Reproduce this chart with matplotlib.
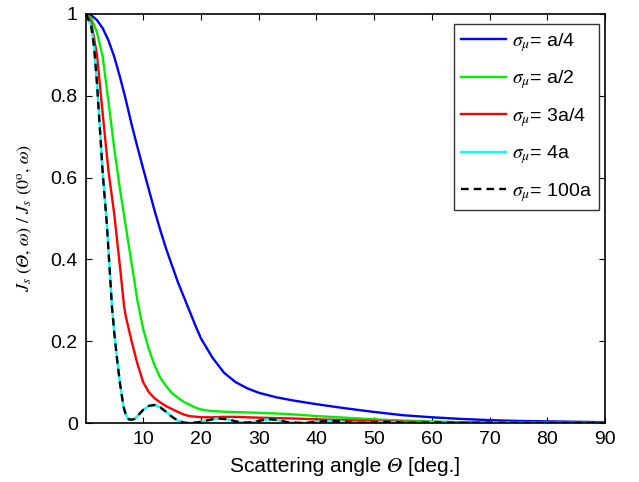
import numpy as np
import matplotlib
matplotlib.use("Agg")
import matplotlib.pyplot as plt

plt.rcParams['font.family'] = ['Liberation Sans', 'STIXGeneral', 'DejaVu Sans']
plt.rcParams['mathtext.fontset'] = 'stix'

# sigma_mu = a/4
x_a4 = [0.1, 1, 2, 3, 4, 5, 6, 7, 8, 9, 10, 11, 12, 13, 14, 15, 16, 17, 18, 19,
        20, 22, 24, 26, 28, 30, 33, 36, 40, 45, 50, 55, 60, 65, 70, 75, 80, 85, 90]
y_a4 = [1.0, 0.997, 0.985, 0.965, 0.935, 0.895, 0.845, 0.79, 0.73, 0.675, 0.622, 0.57,
        0.518, 0.47, 0.425, 0.385, 0.345, 0.31, 0.275, 0.24, 0.207, 0.16, 0.123, 0.1,
        0.085, 0.074, 0.063, 0.055, 0.046, 0.036, 0.027, 0.019, 0.014, 0.01, 0.007,
        0.005, 0.004, 0.003, 0.002]

# sigma_mu = a/2
x_a2 = [0.1, 1, 2, 3, 4, 5, 6, 7, 8, 9, 10, 11, 12, 13, 14, 15, 16, 17, 18, 19,
        20, 22, 25, 30, 35, 40, 45, 50, 55, 60, 65, 70, 80, 90]
y_a2 = [1.0, 0.99, 0.955, 0.895, 0.785, 0.67, 0.57, 0.48, 0.39, 0.3, 0.23, 0.18, 0.14,
        0.11, 0.09, 0.073, 0.062, 0.052, 0.045, 0.038, 0.033, 0.029, 0.027, 0.025,
        0.022, 0.017, 0.013, 0.009, 0.006, 0.004, 0.002, 0.001, 0.0005, 0.0]

# sigma_mu = 3a/4
x_3a4 = [0.1, 1, 2, 3, 3.6, 4, 5, 6, 6.7, 7, 8, 9, 10, 11, 12, 13, 14, 15, 16, 17, 18,
         20, 22, 24, 26, 28, 30, 33, 36, 40, 45, 50, 55, 60, 70, 80, 90]
y_3a4 = [1.0, 0.98, 0.9, 0.755, 0.67, 0.615, 0.51, 0.38, 0.285, 0.26, 0.2, 0.145, 0.1,
         0.075, 0.06, 0.05, 0.041, 0.034, 0.027, 0.021, 0.017, 0.014, 0.014, 0.015,
         0.015, 0.014, 0.013, 0.012, 0.011, 0.009, 0.007, 0.005, 0.003, 0.002, 0.001,
         0.0, 0.0]

# sigma_mu = 4a and 100a (nearly identical)
x_4a = [0.1, 1, 1.5, 2, 2.6, 3, 3.7, 4, 4.6, 5, 5.5, 6, 6.6, 7, 7.5, 8, 8.5, 9, 10, 11,
        12, 13, 14, 15, 16, 17, 18, 19, 20, 21, 22, 23, 24, 25, 26, 27, 28, 29, 30, 31,
        32, 33, 34, 35, 36, 38, 40, 42, 44, 46, 48, 50, 52, 54, 56, 60, 63, 66, 70, 75, 90]
y_4a = [1.0, 0.97, 0.92, 0.83, 0.7, 0.61, 0.488, 0.42, 0.284, 0.22, 0.154, 0.095, 0.04,
        0.02, 0.009, 0.008, 0.01, 0.017, 0.032, 0.042, 0.044, 0.038, 0.027, 0.015, 0.006,
        0.001, 0.0, 0.001, 0.003, 0.006, 0.009, 0.011, 0.01, 0.008, 0.004, 0.002, 0.001,
        0.002, 0.005, 0.008, 0.009, 0.008, 0.005, 0.002, 0.001, 0.0, 0.003, 0.005, 0.004,
        0.001, 0.0, 0.002, 0.003, 0.002, 0.0, 0.002, 0.001, 0.0, 0.001, 0.0, 0.0]
y_100a = y_4a

labels = [r'$\sigma_\mu$= a/4', r'$\sigma_\mu$= a/2', r'$\sigma_\mu$= 3a/4',
          r'$\sigma_\mu$= 4a', r'$\sigma_\mu$= 100a']

fig = plt.figure(figsize=(6.39, 4.82), dpi=100)
ax = fig.add_axes([0.1346, 0.1224, 0.8122, 0.8486])

ax.plot(x_a4, y_a4, color='#0000ff', lw=1.7, label=labels[0])
ax.plot(x_a2, y_a2, color='#00ee00', lw=1.7, label=labels[1])
ax.plot(x_3a4, y_3a4, color='#ff0000', lw=1.7, label=labels[2])
ax.plot(x_4a, y_4a, color='#00ffff', lw=1.7, label=labels[3])
ax.plot(x_4a, y_100a, color='black', lw=1.7, ls=(0, (3.2, 2.2)), label=labels[4])

ax.set_xlim(0.1, 90)
ax.set_ylim(0, 1)
ax.set_xticks([10, 20, 30, 40, 50, 60, 70, 80, 90])
ax.set_yticks([0, 0.2, 0.4, 0.6, 0.8, 1])
ax.set_yticklabels(['0', '0.2', '0.4', '0.6', '0.8', '1'])
ax.tick_params(direction='in', top=True, right=True, labelsize=14, length=4, pad=6)
for s in ax.spines.values():
    s.set_linewidth(1.2)

ax.set_xlabel('Scattering angle \U0001D6E9 [deg.]', fontsize=15, labelpad=6)
ax.set_ylabel('$J_s$ (\U0001D6E9, \U0001D714) / $J_s$ (0$^{\\mathrm{o}}$, \U0001D714)',
              fontsize=13, labelpad=12, family=['STIXGeneral', 'DejaVu Serif'])

leg = ax.legend(loc='upper right', bbox_to_anchor=(0.995, 0.985), fontsize=14,
                frameon=True, fancybox=False, edgecolor='black', handlelength=2.3,
                handletextpad=0.3, labelspacing=0.75, borderaxespad=0.2,
                borderpad=0.35)
leg.get_frame().set_linewidth(1.0)

fig.savefig('out.png', dpi=100)
